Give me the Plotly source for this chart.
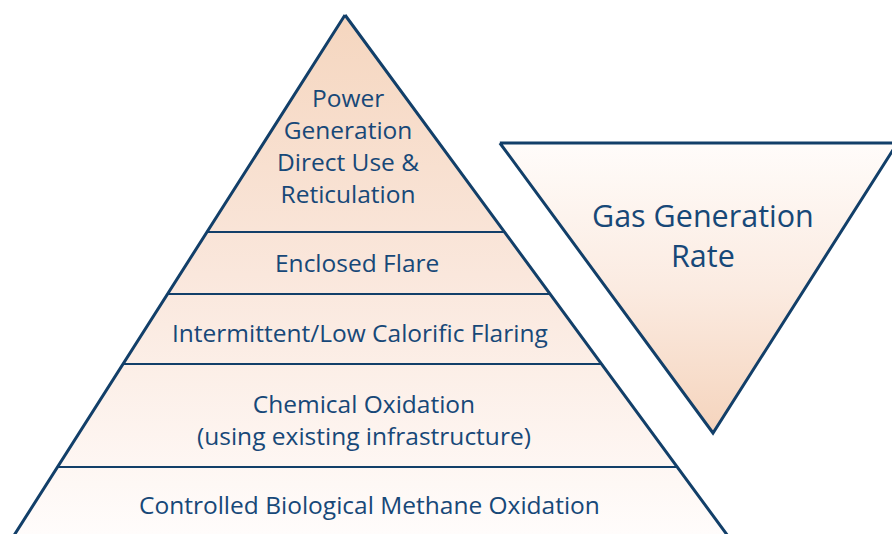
import plotly.graph_objects as go

# ---- data ----
tier_labels = [
    "Power<br>Generation<br>Direct Use &<br>Reticulation",
    "Enclosed Flare",
    "Intermittent/Low Calorific Flaring",
    "Chemical Oxidation<br>(using existing infrastructure)",
    "Controlled Biological Methane Oxidation",
]
# tier boundaries (diagram units, top to bottom)
tier_bounds = [15, 232, 294, 364, 467, 560]
side_label = "Gas Generation<br>Rate"

# ---- geometry ----
W, H = 892, 534
apex_x, apex_y = 345, 15
sl_left, sl_right = 0.636, 0.735
LINE = "#123f69"
TEXT = "#174878"
FONT = "Open Sans"

def left_x(y):
    return apex_x - sl_left * (y - apex_y)

def right_x(y):
    return apex_x + sl_right * (y - apex_y)

fig = go.Figure()

yb = tier_bounds[-1]
fig.add_trace(go.Scatter(
    x=[apex_x, right_x(yb), left_x(yb), apex_x],
    y=[apex_y, yb, yb, apex_y],
    mode="lines", fill="toself",
    fillgradient=dict(type="vertical",
                      colorscale=[[0, "#f5d6bf"], [0.5, "#fae7dc"], [1, "#fffcfb"]],
                      start=apex_y, stop=H),
    line=dict(color=LINE, width=3), hoverinfo="skip", showlegend=False))

for yv in tier_bounds[1:-1]:
    fig.add_trace(go.Scatter(x=[left_x(yv), right_x(yv)], y=[yv, yv], mode="lines",
                             line=dict(color=LINE, width=2), hoverinfo="skip", showlegend=False))

# inverted triangle
top_y, tip_x, tip_y = 143, 713, 433
it_left = tip_x - sl_right * (tip_y - top_y)
it_right = tip_x + sl_left * (tip_y - top_y)
fig.add_trace(go.Scatter(
    x=[it_left, it_right, tip_x, it_left],
    y=[top_y, top_y, tip_y, top_y],
    mode="lines", fill="toself",
    fillgradient=dict(type="vertical",
                      colorscale=[[0, "#fffcfa"], [0.5, "#fbebe1"], [1, "#f5d4bd"]],
                      start=top_y, stop=tip_y),
    line=dict(color=LINE, width=3), hoverinfo="skip", showlegend=False))

# labels
label_pos = [(348, 145.5), (357, 262.5), (360, 332), (364, 419), (369, 504)]
for (lx, ly), txt in zip(label_pos, tier_labels):
    fig.add_annotation(x=lx, y=ly, text=txt, showarrow=False,
                       font=dict(family=FONT, size=24.5, color=TEXT),
                       xanchor="center", yanchor="middle")
fig.add_annotation(x=703, y=235, text=side_label, showarrow=False,
                   font=dict(family=FONT, size=30.5, color=TEXT),
                   xanchor="center", yanchor="middle")

fig.update_layout(
    width=W, height=H, margin=dict(l=0, r=0, t=0, b=0),
    paper_bgcolor="white", plot_bgcolor="white",
    xaxis=dict(range=[0, W], visible=False, fixedrange=True),
    yaxis=dict(range=[H, 0], visible=False, fixedrange=True),
)
fig.write_html("out.html", config={"displayModeBar": False},
               post_script="document.body.style.margin='0';document.body.style.overflow='hidden';")
